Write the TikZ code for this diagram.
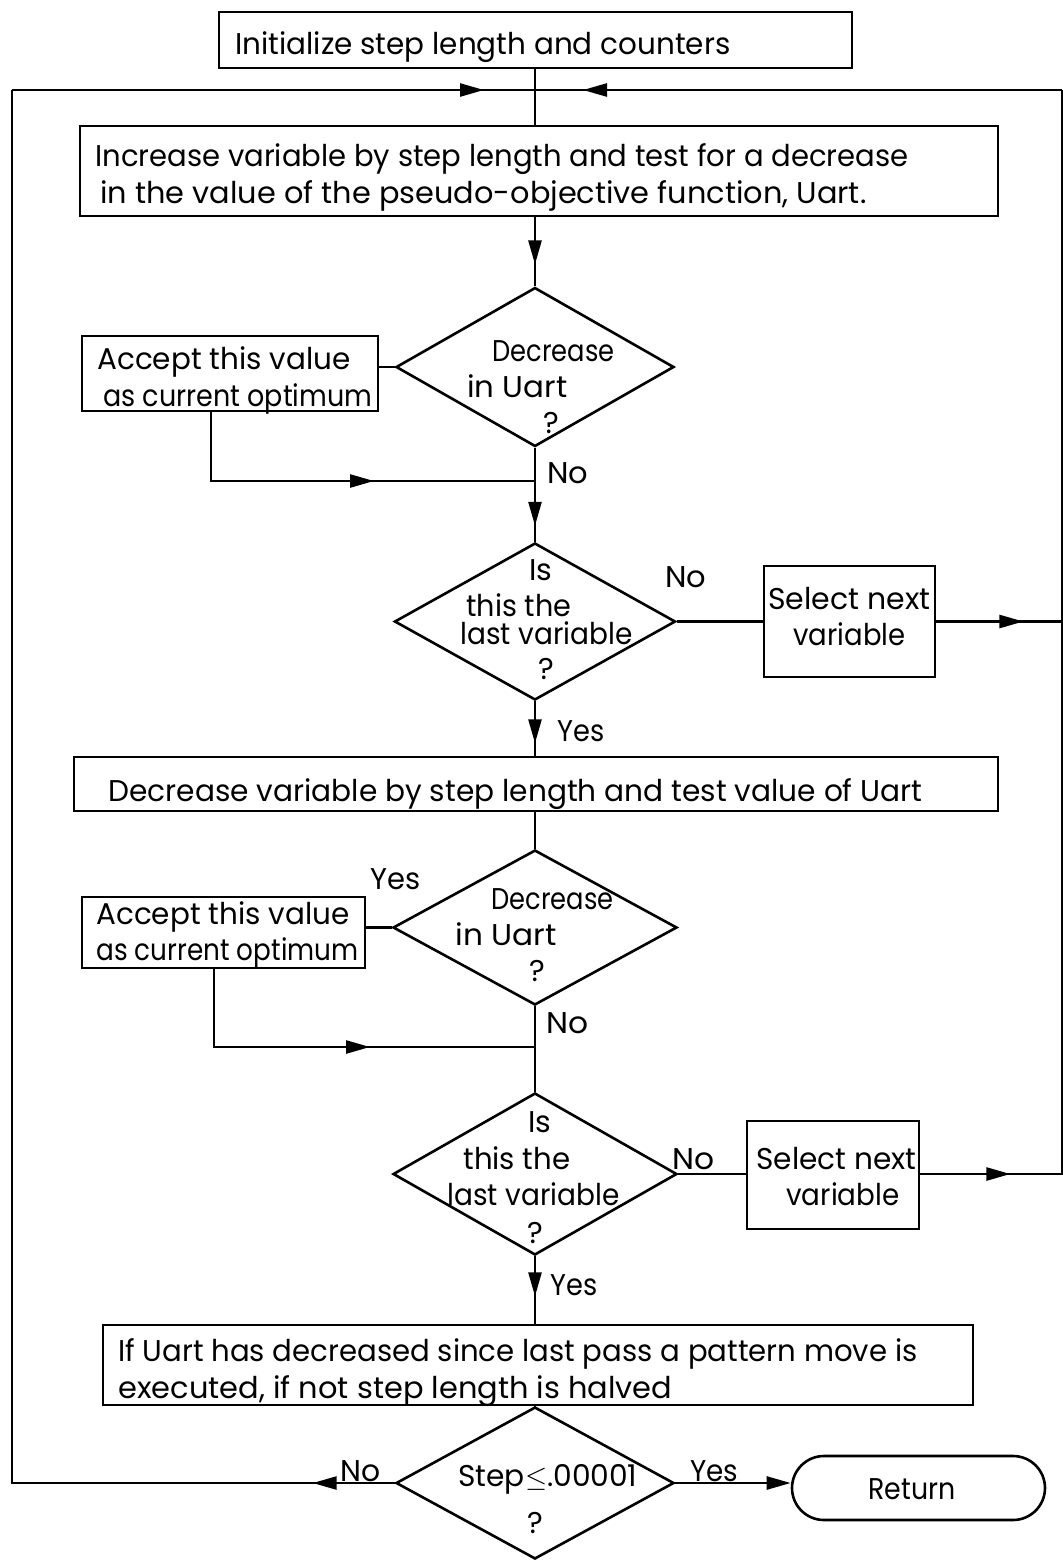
\documentclass[tikz,border=0pt]{standalone}
\usepackage{fontspec}
\setmainfont{Poppins}
\usetikzlibrary{shapes.geometric,arrows.meta,decorations.markings}
% set a line of text to a given width, keeping its natural height
\newcommand{\fitw}[2]{\resizebox{#1}{\height}{#2}}

\begin{document}
\begin{tikzpicture}[x=0.5pt,y=-0.5pt,
  font=\fontsize{15}{17}\selectfont,
  box/.style={draw, rectangle, line width=1.4pt, inner sep=0pt},
  decision/.style={draw, diamond, line width=1.3pt, inner sep=0pt},
  terminal/.style={draw, rectangle, rounded corners=16pt, line width=1.3pt, inner sep=0pt},
  txt/.style={inner sep=0pt, anchor=base west},
  ctxt/.style={inner sep=0pt, anchor=base},
  flow/.style={line width=1.25pt},
  tipat/.style={postaction={decorate},
    decoration={markings, mark=at position #1 with {\arrow{Triangle[length=12pt,width=6.5pt]}}}},
  endtip/.style={-{Triangle[length=12pt,width=6.5pt]}}
]
\useasboundingbox (0,0) rectangle (1062,1560);

% ---------- boxes ----------
\node[box, minimum width=316.5pt, minimum height=28pt] (init) at (535.5,40) {};
\node[box, minimum width=459pt, minimum height=45pt] (incr) at (539,171) {};
\node[box, minimum width=148pt, minimum height=37.5pt] (acc1) at (230,373.5) {};
\node[decision, minimum width=139pt, minimum height=79.5pt] (d1) at (535,367) {};
\node[decision, minimum width=140.5pt, minimum height=78.5pt] (d2) at (535,621.5) {};
\node[box, minimum width=85.5pt, minimum height=55.5pt] (sel1) at (849.5,621.5) {};
\node[box, minimum width=462pt, minimum height=27pt] (dec) at (536,784) {};
\node[box, minimum width=141.5pt, minimum height=35.5pt] (acc2) at (223.5,932.5) {};
\node[decision, minimum width=142pt, minimum height=77.5pt] (d3) at (535,927.5) {};
\node[decision, minimum width=142pt, minimum height=81pt] (d4) at (535,1174) {};
\node[box, minimum width=86pt, minimum height=54pt] (sel2) at (833,1175) {};
\node[box, minimum width=435pt, minimum height=40pt] (pat) at (538,1365) {};
\node[decision, minimum width=139pt, minimum height=76pt] (d5) at (535,1483) {};
\node[terminal, minimum width=126.5pt, minimum height=32pt] (ret) at (918.5,1488) {};

% ---------- texts ----------
\node[txt] (tinit) at (235,54) {\fitw{247.5pt}{Initialize step length and counters}};
\node[txt] (tincra) at (95,166) {\fitw{406.5pt}{Increase variable by step length and test for a decrease}};
\node[txt] (tincrb) at (100,203) {\fitw{383pt}{in the value of the pseudo-objective function, Uart.}};
\node[txt] (tacc1a) at (97,369) {\fitw{126.5pt}{Accept this value}};
\node[txt] (tacc1b) at (103,406) {\fitw{134.5pt}{as current optimum}};
\node[txt] (td1a) at (492,361) {\fitw{61pt}{Decrease}};
\node[txt] (td1b) at (467,397) {\fitw{50pt}{in Uart}};
\node[ctxt] (td1c) at (551,433) {?};
\node[txt] (lno1) at (547,483) {\fitw{20.5pt}{No}};
\node[ctxt] (td2a) at (541,580) {Is};
\node[txt] (td2b) at (466,616) {\fitw{52.5pt}{this the}};
\node[txt] (td2c) at (460,644) {\fitw{86pt}{last variable}};
\node[ctxt] (td2d) at (546,679) {?};
\node[txt] (lno2) at (665,587) {\fitw{20.5pt}{No}};
\node[txt] (tsel1a) at (768,609) {\fitw{81pt}{Select next}};
\node[txt] (tsel1b) at (793,645) {\fitw{56pt}{variable}};
\node[txt] (lyes1) at (557,741) {\fitw{23.5pt}{Yes}};
\node[txt] (tdec) at (108,801) {\fitw{407pt}{Decrease variable by step length and test value of Uart}};
\node[txt] (lyes2) at (370,889) {\fitw{25pt}{Yes}};
\node[txt] (tacc2a) at (96,924) {\fitw{126.5pt}{Accept this value}};
\node[txt] (tacc2b) at (96,960) {\fitw{131pt}{as current optimum}};
\node[txt] (td3a) at (491,909) {\fitw{61pt}{Decrease}};
\node[txt] (td3b) at (455,945) {\fitw{50.5pt}{in Uart}};
\node[ctxt] (td3c) at (537,981) {?};
\node[txt] (lno3) at (546,1033) {\fitw{21pt}{No}};
\node[ctxt] (td4a) at (540,1132) {Is};
\node[txt] (td4b) at (463,1169) {\fitw{53.5pt}{this the}};
\node[txt] (td4c) at (447,1205) {\fitw{86pt}{last variable}};
\node[ctxt] (td4d) at (535,1243) {?};
\node[txt] (lno4) at (672,1169) {\fitw{21pt}{No}};
\node[txt] (tsel2a) at (756,1169) {\fitw{80pt}{Select next}};
\node[txt] (tsel2b) at (786,1205) {\fitw{56.5pt}{variable}};
\node[txt] (lyes3) at (550,1295) {\fitw{23.5pt}{Yes}};
\node[txt] (tpata) at (118,1361) {\fitw{399.5pt}{If Uart has decreased since last pass a pattern move is}};
\node[txt] (tpatb) at (118,1398) {\fitw{277pt}{executed, if not step length is halved}};
\node[txt] (lno5) at (340,1481) {\fitw{20pt}{No}};
\node[txt] (td5a) at (458,1486) {\fitw{89.5pt}{Step$\leq$.00001}};
\node[ctxt] (td5b) at (535,1533) {?};
\node[txt] (lyes4) at (690,1481) {\fitw{24pt}{Yes}};
\node[txt] (tret) at (868,1499) {\fitw{43.5pt}{Return}};

% ---------- routing points ----------
\coordinate (jtop) at (535,90);
\coordinate (ltop) at (12,90);
\coordinate (rtop) at (1062,90);
\coordinate (acc1out) at (211,411);
\coordinate (m1) at (535,481);
\coordinate (acc2out) at (214,968);
\coordinate (m2) at (535,1047);

% ---------- connectors ----------
\draw[flow] (init.south -| jtop) -- (incr.north -| jtop);
\draw[flow, tipat=236pt] (ltop) -- (jtop);
\draw[flow, tipat=239.5pt] (rtop) -- (jtop);
\draw[flow, tipat=23.5pt] (incr.south -| d1.north) -- (d1.north);
\draw[flow] (d1.west) -- (d1.west -| acc1.east);
\draw[flow, tipat=116.5pt] (acc1out) -- (acc1out |- m1) -- (m1);
\draw[flow, tipat=39pt] (d1.south) -- (d2.north);
\draw[flow] (d2.east) -- (d2.east -| sel1.west);
\draw[flow, tipat=43.5pt] (sel1.east |- d2.east) -- (rtop |- d2.east);
\draw[flow, tipat=21pt] (d2.south) -- (d2.south |- dec.north);
\draw[flow] (dec.south -| d3.north) -- (d3.north);
\draw[flow] (d3.west) -- (d3.west -| acc2.east);
\draw[flow, tipat=117.5pt] (acc2out) -- (acc2out |- m2) -- (m2);
\draw[flow] (d3.south) -- (d4.north);
\draw[flow] (d4.east) -- (d4.east -| sel2.west);
\draw[flow, tipat=45pt] (sel2.east |- d4.east) -- (rtop |- d4.east) -- (rtop);
\draw[flow, tipat=20pt] (d4.south) -- (d4.south |- pat.north);
\draw[flow] (pat.south -| d5.north) -- (d5.north);
\draw[flow, tipat=41pt] (d5.west) -- (ltop |- d5.west) -- (ltop);
\draw[flow, endtip] (d5.east) -- (ret.west |- d5.east);
\end{tikzpicture}
\end{document}
